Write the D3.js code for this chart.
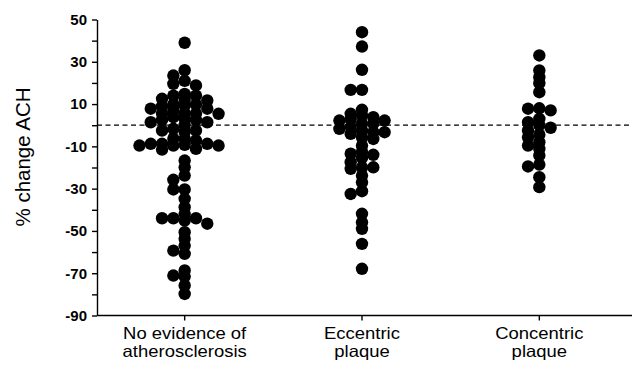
<!DOCTYPE html>
<html>
<head>
<meta charset="utf-8">
<script src="https://cdn.jsdelivr.net/npm/d3@7"></script>
<style>
  body { margin: 0; background: #fff; }
  svg { display: block; font-family: "Liberation Sans", Arial, sans-serif; }
</style>
</head>
<body>
<div id="chart"></div>
<script>
// categories, split in two label lines
const categories = ['none', 'eccentric', 'concentric'];
const categoryLabels = [
  ['No evidence of', 'atherosclerosis'],
  ['Eccentric', 'plaque'],
  ['Concentric', 'plaque']
];

// % change ACH
const noEvidence = [39, 26, 23.5, 21, 19.6, 18.8, 14.8, 14, 14, 12.5, 12, 11.7, 9.8, 9.8, 9.3, 9,
  7.8, 7.8, 7, 5.7, 5.5, 5.4, 5.4, 3.8, 3, 2.5, 2.5, 1.4, 1.4, 0, -1.7, -2.5, -2.5, -3.2,
  -6.4, -6.4, -7.2, -8.8, -8.8, -8.8, -9.3, -9.6, -9.6, -9.6, -11.2, -11.5, -16.7, -19.9,
  -23.8, -25.8, -30.4, -30.4, -34.8, -38.8, -42, -44, -44, -44, -45.1, -46.6, -50.6, -53.7,
  -56.9, -59.3, -60.8, -68.7, -71.1, -71.6, -75.8, -79.8];
const eccentric = [44, 37.2, 26.2, 16.7, 16.7, 7.3, 5.4, 4.6, 3.8, 2.7, 2.2, 2.2, 0.7, 0.7,
  -0.9, -1.7, -2.5, -3.3, -3.3, -4.1, -5.7, -6.5, -9.6, -12.5, -13.5, -14, -15.5, -17.5,
  -19.9, -19.9, -20.6, -23.8, -27, -31.2, -32.5, -41.9, -45.9, -49, -56.1, -67.9];
const concentric = [33, 25.9, 22.7, 19.9, 15.6, 8, 7.8, 7, 3, 1.4, 0, -1.2, -2.5, -4.5, -5.7,
  -8, -9.6, -11.2, -14.3, -18.6, -19.5, -24.6, -29.3];

const yTicks = [50, 40, 30, 20, 10, 0, -10, -20, -30, -40, -50, -60, -70, -80, -90];
const yLabels = [50, 30, 10, -10, -30, -50, -70, -90];
const yTitle = '% change ACH';

const width = 632;
const height = 369;
const left = 97;
const r = 6.2;
const slot = 11.3;   // horizontal step between dots of one group
const gap = 5.5;     // min vertical distance in one slot

const svg = d3.select('#chart').append('svg')
  .attr('width', width)
  .attr('height', height);

/* Scales */
const y = d3.scaleLinear().domain([-90, 50]).range([315.5, 19.5]);
const x = d3.scaleBand().domain(categories).range([96, 628]);

/* Axes */
const yAxis = d3.axisLeft(y).tickValues(yTicks).tickSize(5).tickSizeOuter(0)
  .tickFormat(d => yLabels.includes(d) ? d : '');
const gy = svg.append('g')
  .attr('transform', `translate(${left}, 0)`)
  .call(yAxis);
gy.selectAll('path, line').attr('stroke', '#000').attr('stroke-width', 1.4);
gy.selectAll('text')
  .attr('x', -10)
  .attr('fill', '#000')
  .style('font-size', '15px')
  .style('font-weight', 'bold');

const xAxis = d3.axisBottom(x).tickSize(5).tickSizeOuter(0).tickFormat('');
const gx = svg.append('g')
  .attr('transform', `translate(0, ${y(-90)})`)
  .call(xAxis);
gx.select('.domain').remove();
gx.selectAll('line').attr('stroke', '#000').attr('stroke-width', 1.4);
gx.append('line')
  .attr('x1', left).attr('x2', width)
  .attr('stroke', '#000').attr('stroke-width', 1.4);

// category names, slightly widened like the scan
categories.forEach((c, i) => {
  const cx = x(c) + x.bandwidth() / 2;
  categoryLabels[i].forEach((line, j) => {
    svg.append('text')
      .attr('transform', `translate(${cx}, ${339 + j * 18}) scale(1.12, 1)`)
      .attr('text-anchor', 'middle')
      .attr('fill', '#000')
      .style('font-size', '16.5px')
      .text(line);
  });
});

svg.append('text')
  .attr('transform', `translate(30, 157) rotate(-90)`)
  .attr('text-anchor', 'middle')
  .attr('fill', '#000')
  .style('font-size', '20.5px')
  .text(yTitle);

/* zero line */
svg.append('line')
  .attr('x1', left).attr('x2', width)
  .attr('y1', y(0)).attr('y2', y(0))
  .attr('stroke', '#000')
  .attr('stroke-width', 1.3)
  .attr('stroke-dasharray', '5,3.5');

/* simple dot-plot layout: centre slot first, then left/right */
function layout(values) {
  const placed = [];
  const order = [0, -1, 1, -2, 2, -3, 3, -4, 4, -5, 5];
  values.slice().sort((a, b) => b - a).forEach(v => {
    const py = y(v);
    const k = order.find(s => placed.every(p => p.k !== s || Math.abs(p.py - py) >= gap));
    placed.push({ v, k, py });
  });
  return placed;
}

const groups = [noEvidence, eccentric, concentric];
groups.forEach((vals, i) => {
  const cx = x(categories[i]) + x.bandwidth() / 2;
  svg.append('g')
    .selectAll('circle')
    .data(layout(vals)).enter()
    .append('circle')
    .attr('cx', d => cx + d.k * slot)
    .attr('cy', d => d.py)
    .attr('r', r)
    .attr('fill', '#000');
});
</script>
</body>
</html>
